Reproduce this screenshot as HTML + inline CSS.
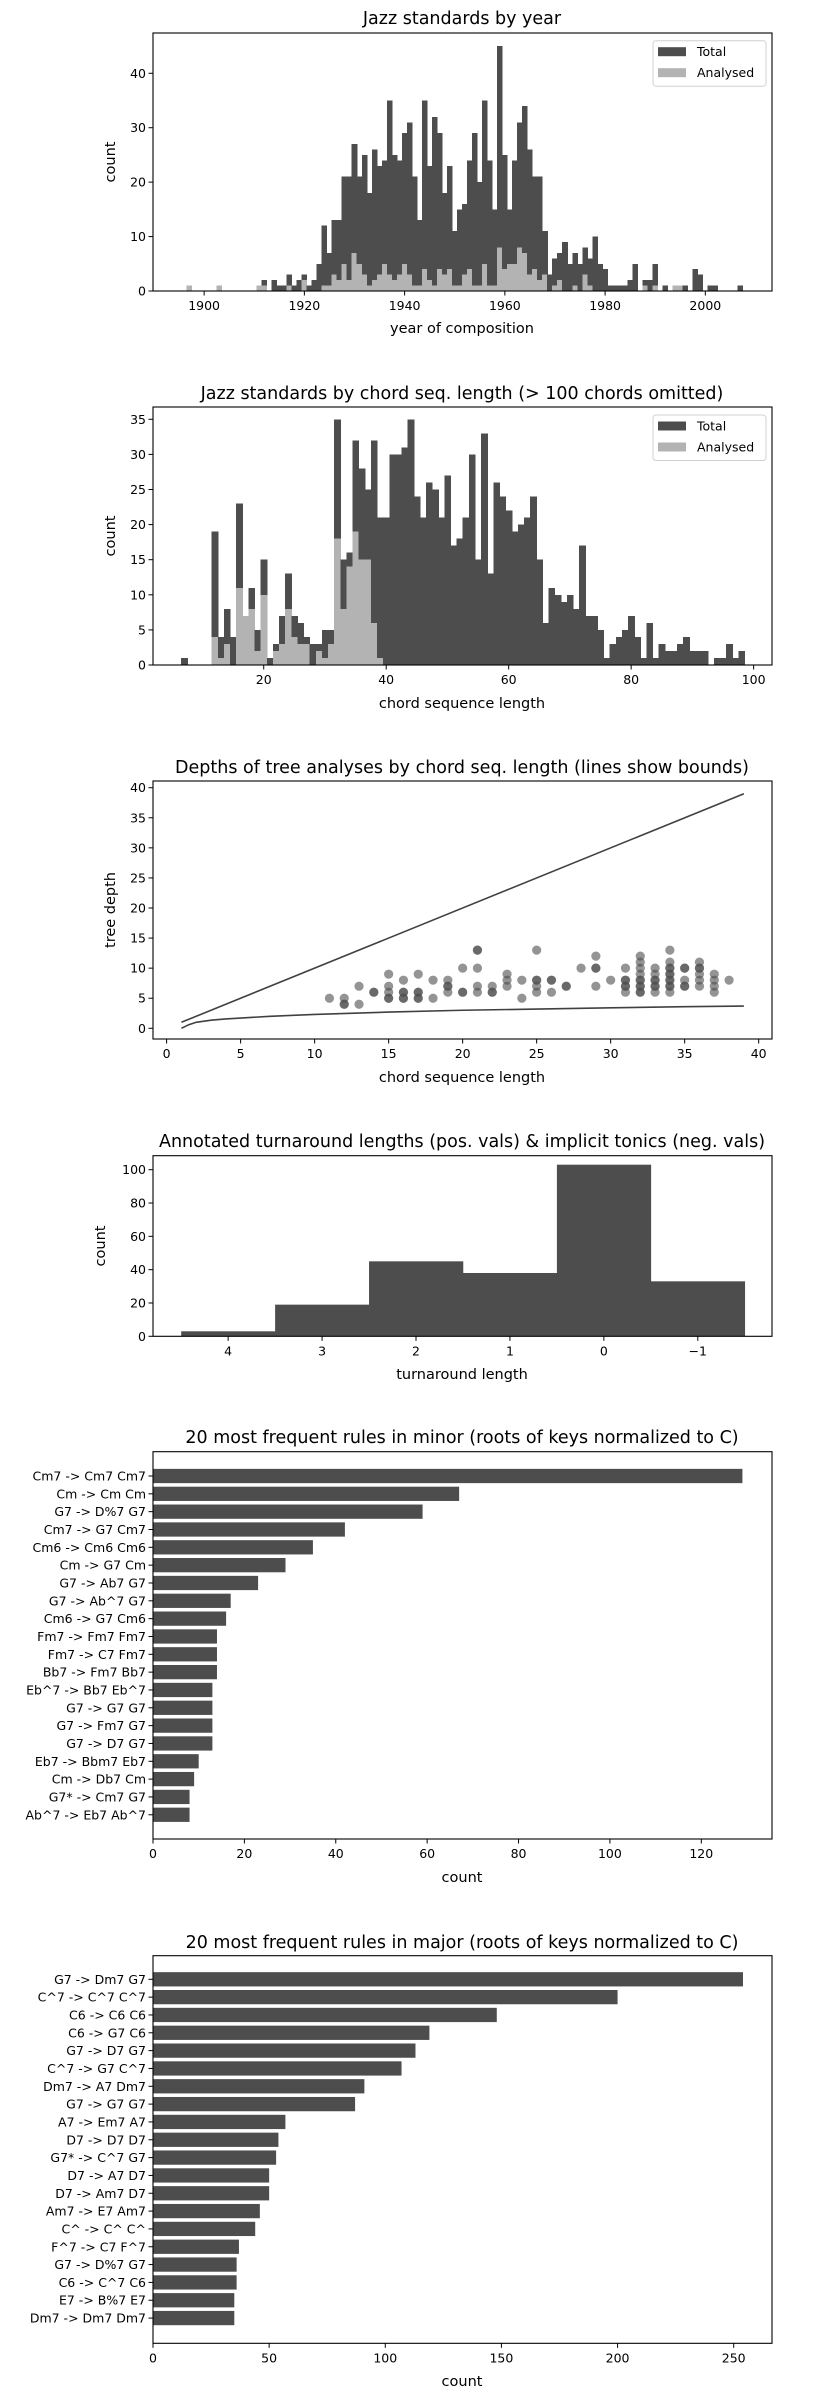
<!DOCTYPE html>
<html><head><meta charset="utf-8">
<style>
html,body{margin:0;padding:0;background:#fff;}
svg{display:block;font-family:"DejaVu Sans","Liberation Sans",sans-serif;}
.t{font-size:17.5px;fill:#000;text-anchor:middle;}
.al{font-size:14.5px;fill:#000;text-anchor:middle;}
.tk{font-size:12.5px;fill:#000;}
</style></head>
<body>
<svg id="fig" width="820" height="2400" viewBox="0 0 820 2400" xmlns="http://www.w3.org/2000/svg">
<rect x="0" y="0" width="820" height="2400" fill="#fff"/>
<text class="t" x="462" y="24">Jazz standards by year</text>
<text class="al" x="462" y="333">year of composition</text>
<text class="al" transform="translate(115,162) rotate(-90)">count</text>

<text class="t" x="462" y="399">Jazz standards by chord seq. length (&gt; 100 chords omitted)</text>
<text class="al" x="462" y="708">chord sequence length</text>
<text class="al" transform="translate(115,536) rotate(-90)">count</text>

<text class="t" x="462" y="773">Depths of tree analyses by chord seq. length (lines show bounds)</text>
<text class="al" x="462" y="1082">chord sequence length</text>
<text class="al" transform="translate(115,910) rotate(-90)">tree depth</text>

<text class="t" x="462" y="1147">Annotated turnaround lengths (pos. vals) &amp; implicit tonics (neg. vals)</text>
<text class="al" x="462" y="1379">turnaround length</text>
<text class="al" transform="translate(105,1246) rotate(-90)">count</text>

<text class="t" x="462" y="1443">20 most frequent rules in minor (roots of keys normalized to C)</text>
<text class="al" x="462" y="1882">count</text>

<text class="t" x="462" y="1948">20 most frequent rules in major (roots of keys normalized to C)</text>
<text class="al" x="462" y="2386">count</text>
</svg>
<script>
// ---------- Chart 1 data ----------
const c1Years = [1896,1902,1910,1911,1913,1914,1915,1916,1917,1918,1919,1920,1921,1922,1923,1924,1925,1926,1927,1928,1929,1930,1931,1932,1933,1934,1935,1936,1937,1938,1939,1940,1941,1942,1943,1944,1945,1946,1947,1948,1949,1950,1951,1952,1953,1954,1955,1956,1957,1958,1959,1960,1961,1962,1963,1964,1965,1966,1967,1968,1969,1970,1971,1972,1973,1974,1975,1976,1977,1978,1979,1980,1981,1982,1983,1984,1985,1987,1988,1989,1991,1993,1994,1995,1997,1998,2000,2001,2006];
const c1Total = [1,1,1,2,2,1,1,3,1,2,3,1,2,5,12,7,13,13,21,21,27,21,25,18,26,23,24,35,25,24,29,31,21,13,35,23,32,29,18,23,11,15,16,24,29,20,35,24,15,45,25,15,24,31,34,26,21,21,11,3,6,7,9,5,7,5,8,6,10,5,4,1,1,1,1,2,5,2,2,5,1,1,1,1,4,3,1,1,1];
const c1Analysed = [1,1,1,1,0,0,0,1,0,0,2,0,0,0,1,1,3,2,5,2,7,5,3,1,2,3,5,3,2,3,5,3,1,1,4,2,1,4,3,4,1,1,3,4,1,1,5,1,1,8,4,5,5,8,7,3,4,2,3,0,1,2,0,0,1,0,3,1,0,0,0,0,0,0,0,0,0,1,0,1,0,1,1,0,0,0,0,0,0];
const c1XTicks = [1900,1920,1940,1960,1980,2000];
const c1YTicks = [0,10,20,30,40];
// ---------- Chart 2 data ----------
const c2Lengths = [6,11,12,13,14,15,16,17,18,19,20,21,22,23,24,25,26,27,28,29,30,31,32,33,34,35,36,37,38,39,40,41,42,43,44,45,46,47,48,49,50,51,52,53,54,55,56,57,58,59,60,61,62,63,64,65,66,67,68,69,70,71,72,73,74,75,76,77,78,79,80,81,82,83,84,85,86,87,88,89,90,91,92,93,94,95,96,97];
const c2Total = [1,19,4,8,4,23,7,11,5,15,1,3,7,13,7,6,4,3,3,5,5,35,15,16,32,28,25,32,21,21,30,30,31,35,24,21,26,25,21,27,17,18,21,30,15,33,13,26,24,22,19,20,21,24,15,6,11,10,9,10,8,17,7,7,5,1,3,4,5,7,4,1,6,1,3,2,2,3,4,2,2,2,0,1,1,3,1,2];
const c2Analysed = [0,4,1,3,0,11,7,8,2,10,0,2,3,8,4,3,3,0,2,1,3,18,8,14,19,15,15,6,1,0,0,0,0,0,0,0,0,0,0,0,0,0,0,0,0,0,0,0,0,0,0,0,0,0,0,0,0,0,0,0,0,0,0,0,0,0,0,0,0,0,0,0,0,0,0,0,0,0,0,0,0,0,0,0,0,0,0,0];
const c2XTicks = [20,40,60,80,100];
const c2YTicks = [0,5,10,15,20,25,30,35];
// ---------- Chart 3 data ----------
const c3PointX = [11,12,12,12,13,13,14,14,15,15,15,15,15,16,16,16,16,16,17,17,17,17,17,18,18,19,19,19,19,20,20,20,21,21,21,21,21,22,22,22,23,23,23,24,24,25,25,25,25,25,26,26,26,27,27,28,29,29,29,29,30,31,31,31,31,31,31,32,32,32,32,32,32,32,32,32,32,33,33,33,33,33,33,33,34,34,34,34,34,34,34,34,34,34,34,35,35,35,35,35,36,36,36,36,36,36,37,37,37,37,38];
const c3PointY = [5,5,4,4,7,4,6,6,9,7,6,5,5,8,6,6,5,5,9,6,6,5,5,8,5,8,7,7,6,10,6,6,13,13,10,7,6,7,6,6,9,8,7,8,5,13,8,8,7,6,8,8,6,7,7,10,12,10,10,7,8,10,8,8,7,7,6,12,11,10,9,8,8,7,7,6,6,10,9,8,8,7,7,6,13,11,10,10,9,9,8,8,7,7,6,10,10,8,7,7,11,10,10,9,8,7,9,8,7,6,8];
const c3UpperX = [1,39];
const c3UpperY = [1,39];
const c3LowerX = [1,1.5,2,3,4,5,7,10,15,20,25,30,35,39];
const c3LowerY = [0,0.6,1.0,1.35,1.55,1.7,2.0,2.3,2.7,3.0,3.2,3.4,3.6,3.7];
const c3XTicks = [0,5,10,15,20,25,30,35,40];
const c3YTicks = [0,5,10,15,20,25,30,35,40];
// ---------- Chart 4 data ----------
const c4Lengths = [4,3,2,1,0,-1];
const c4Counts = [3,19,45,38,103,33];
const c4XTicks = [4,3,2,1,0,-1];
const c4YTicks = [0,20,40,60,80,100];
// ---------- Chart 5 data ----------
const c5Rules = ["Cm7 -> Cm7 Cm7","Cm -> Cm Cm","G7 -> D%7 G7","Cm7 -> G7 Cm7","Cm6 -> Cm6 Cm6","Cm -> G7 Cm","G7 -> Ab7 G7","G7 -> Ab^7 G7","Cm6 -> G7 Cm6","Fm7 -> Fm7 Fm7","Fm7 -> C7 Fm7","Bb7 -> Fm7 Bb7","Eb^7 -> Bb7 Eb^7","G7 -> G7 G7","G7 -> Fm7 G7","G7 -> D7 G7","Eb7 -> Bbm7 Eb7","Cm -> Db7 Cm","G7* -> Cm7 G7","Ab^7 -> Eb7 Ab^7"];
const c5Counts = [129,67,59,42,35,29,23,17,16,14,14,14,13,13,13,13,10,9,8,8];
const c5XTicks = [0,20,40,60,80,100,120];
// ---------- Chart 6 data ----------
const c6Rules = ["G7 -> Dm7 G7","C^7 -> C^7 C^7","C6 -> C6 C6","C6 -> G7 C6","G7 -> D7 G7","C^7 -> G7 C^7","Dm7 -> A7 Dm7","G7 -> G7 G7","A7 -> Em7 A7","D7 -> D7 D7","G7* -> C^7 G7","D7 -> A7 D7","D7 -> Am7 D7","Am7 -> E7 Am7","C^ -> C^ C^","F^7 -> C7 F^7","G7 -> D%7 G7","C6 -> C^7 C6","E7 -> B%7 E7","Dm7 -> Dm7 Dm7"];
const c6Counts = [254,200,148,119,113,107,91,87,57,54,53,50,50,46,44,37,36,36,35,35];
const c6XTicks = [0,50,100,150,200,250];

const NS = "http://www.w3.org/2000/svg";
const fig = document.getElementById('fig');
const DARK = "#4d4d4d", LIGHT = "#b3b3b3";
function mk(tag, attrs, parent){
  const e = document.createElementNS(NS, tag);
  for (const k in attrs) e.setAttribute(k, attrs[k]);
  (parent || fig).appendChild(e);
  return e;
}
function scale(d0,d1,r0,r1){ return v => r0 + (v-d0)/(d1-d0)*(r1-r0); }
function frame(name, L,T,R,B){
  const f = mk('rect',{x:L,y:T,width:R-L,height:B-T,fill:'none',stroke:'#000','stroke-width':1.1});
  
  
}
function xTicks(name, ticks, sx, B, fmt){
  ticks.forEach(t => {
    const x = sx(t);
    const l = mk('line',{x1:x,x2:x,y1:B,y2:B+4.5,stroke:'#000','stroke-width':1});
    
    
    const tx = mk('text',{x:x,y:B+19,'text-anchor':'middle',class:'tk'});
    tx.textContent = fmt ? fmt(t) : String(t);
    
    
  });
}
function yTicks(name, ticks, sy, L){
  ticks.forEach(t => {
    const y = sy(t);
    const l = mk('line',{x1:L-4.5,x2:L,y1:y,y2:y,stroke:'#000','stroke-width':1});
    
    
    const tx = mk('text',{x:L-7,y:y+4.5,'text-anchor':'end',class:'tk'});
    tx.textContent = String(t);
    
    
  });
}
function legend(prefix, top){
  const box = mk('rect',{x:653,y:top,width:113,height:45.5,rx:3,fill:'#fff','fill-opacity':0.8,stroke:'#d0d0d0','stroke-width':1});
  
  
  const p1 = mk('rect',{x:658,y:top+6.5,width:28,height:9,fill:DARK});
  
  
  const t1 = mk('text',{x:697,y:top+15.5,class:'tk','font-size':'13'});
  t1.textContent = 'Total';
  
  
  const p2 = mk('rect',{x:658,y:top+27.5,width:28,height:9,fill:LIGHT});
  
  
  const t2 = mk('text',{x:697,y:top+36.5,class:'tk','font-size':'13'});
  t2.textContent = 'Analysed';
  
  
}

// ---------- Chart 1 ----------
(function(){
  const L=153,R=772,T=33,B=291;
  const sx = scale(1889.8,2013.3,L,R);
  const sy = scale(0,47.4,B,T);
  const w = 0.991;
  c1Years.forEach((yr,i) => {
    const x0 = sx(yr+0.45), x1 = sx(yr+0.45+w);
    const r = mk('rect',{x:x0,y:sy(c1Total[i]),width:x1-x0+0.6,height:B-sy(c1Total[i]),fill:DARK,'shape-rendering':'crispEdges'});
    
    
    if (c1Analysed[i] > 0){
      const g = mk('rect',{x:x0,y:sy(c1Analysed[i]),width:x1-x0+0.6,height:B-sy(c1Analysed[i]),fill:LIGHT,'shape-rendering':'crispEdges'});
      
      
    }
  });
  frame('chart1-axes',L,T,R,B);
  xTicks('chart1-x',c1XTicks,sx,B);
  yTicks('chart1-y',c1YTicks,sy,L);
  legend('chart1',40.7);
})();

// ---------- Chart 2 ----------
(function(){
  const L=153,R=772,T=407,B=665;
  const sx = scale(1.92,103.0,L,R);
  const sy = scale(0,36.75,B,T);
  c2Lengths.forEach((n,i) => {
    const x0 = sx(n+0.5), x1 = sx(n+1.5);
    if (c2Total[i] > 0){
      const r = mk('rect',{x:x0,y:sy(c2Total[i]),width:x1-x0+0.6,height:B-sy(c2Total[i]),fill:DARK,'shape-rendering':'crispEdges'});
      
      
    }
    if (c2Analysed[i] > 0){
      const g = mk('rect',{x:x0,y:sy(c2Analysed[i]),width:x1-x0+0.6,height:B-sy(c2Analysed[i]),fill:LIGHT,'shape-rendering':'crispEdges'});
      
      
    }
  });
  frame('chart2-axes',L,T,R,B);
  xTicks('chart2-x',c2XTicks,sx,B);
  yTicks('chart2-y',c2YTicks,sy,L);
  legend('chart2',415);
})();

// ---------- Chart 3 ----------
(function(){
  const L=153,R=772,T=781,B=1039;
  const sx = scale(-0.92,40.9,L,R);
  const sy = scale(0,40,1028.3,787.7);
  const up = mk('polyline',{points:c3UpperX.map((x,i)=>sx(x)+','+sy(c3UpperY[i])).join(' '),fill:'none',stroke:'#404040','stroke-width':1.6});
  
  
  const lo = mk('polyline',{points:c3LowerX.map((x,i)=>sx(x)+','+sy(c3LowerY[i])).join(' '),fill:'none',stroke:'#404040','stroke-width':1.6});
  
  
  c3PointX.forEach((x,i) => {
    const c = mk('circle',{cx:sx(x),cy:sy(c3PointY[i]),r:4.6,fill:DARK,'fill-opacity':0.6});
    
    
  });
  frame('chart3-axes',L,T,R,B);
  xTicks('chart3-x',c3XTicks,sx,B);
  yTicks('chart3-y',c3YTicks,sy,L);
})();

// ---------- Chart 4 ----------
(function(){
  const L=153,R=772,T=1155.7,B=1336.3;
  const sx = scale(4.80,-1.79,L,R);
  const sy = scale(0,108.4,B,T);
  c4Lengths.forEach((v,i) => {
    const x0 = sx(v+0.5), x1 = sx(v-0.5);
    const r = mk('rect',{x:x0,y:sy(c4Counts[i]),width:x1-x0+0.3,height:B-sy(c4Counts[i]),fill:DARK});
    
    
  });
  frame('chart4-axes',L,T,R,B);
  xTicks('chart4-x',c4XTicks,sx,B,t => t<0 ? '\u2212'+(-t) : String(t));
  yTicks('chart4-y',c4YTicks,sy,L);
})();

// ---------- Horizontal bar charts ----------
function hbar(prefix, rules, counts, ticks, xmaxPx, xmaxVal, T, B, c0, step){
  const L=153,R=772;
  const sx = scale(0,xmaxVal,L,xmaxPx);
  const h = step*0.8;
  rules.forEach((name,i) => {
    const cy = c0 + i*step;
    const r = mk('rect',{x:L,y:cy-h/2,width:sx(counts[i])-L,height:h,fill:DARK});
    
    
    const l = mk('line',{x1:L-4.5,x2:L,y1:cy,y2:cy,stroke:'#000','stroke-width':1});
    
    
    const t = mk('text',{x:L-7,y:cy+4.5,'text-anchor':'end',class:'tk'});
    t.textContent = name;
    
    
  });
  frame(prefix+'-axes',L,T,R,B);
  xTicks(prefix+'-x',ticks,sx,B);
}
hbar('chart5', c5Rules, c5Counts, c5XTicks, 701.3, 120, 1451.7, 1839, 1476, 17.83);
hbar('chart6', c6Rules, c6Counts, c6XTicks, 733.7, 250, 1955.7, 2343.3, 1979.3, 17.83);
</script>
</body></html>
